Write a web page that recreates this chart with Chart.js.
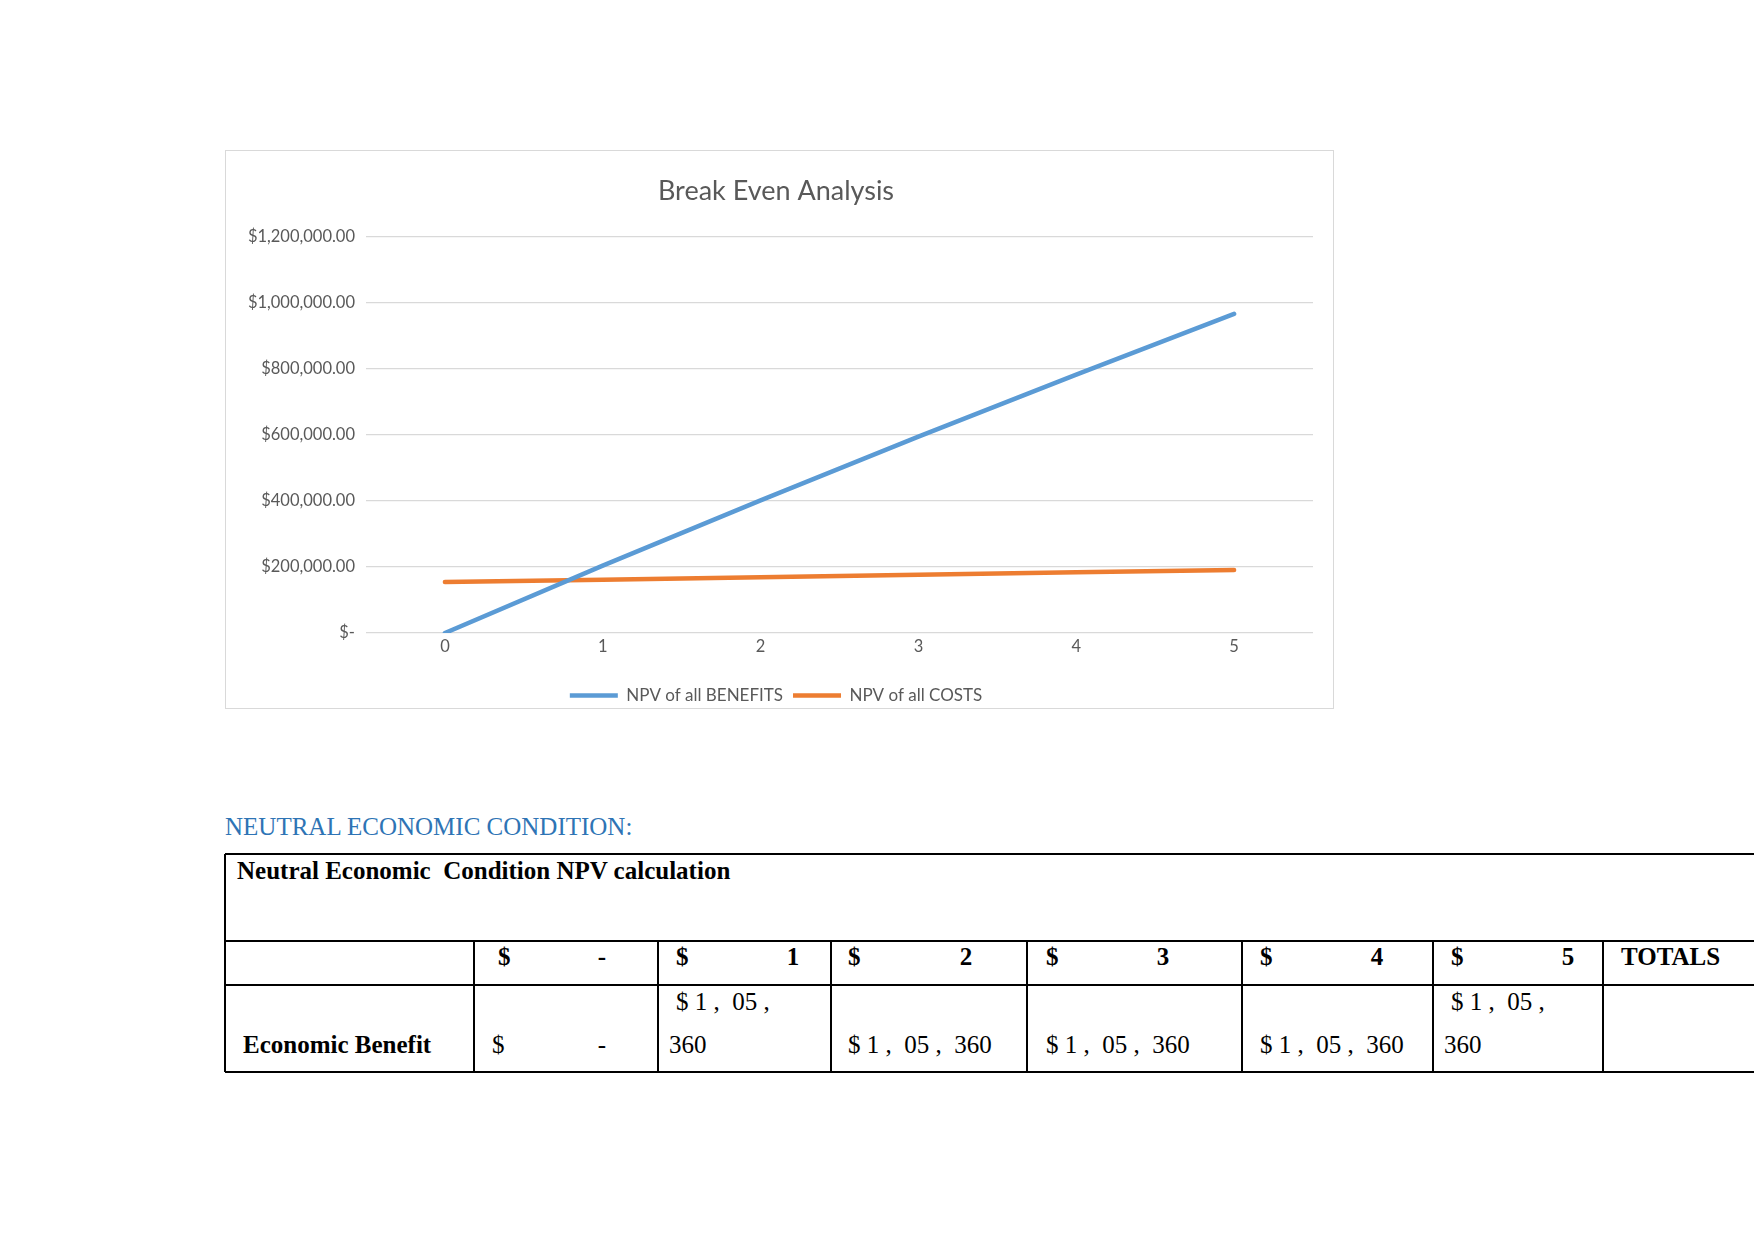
<!DOCTYPE html>
<html>
<head>
<meta charset="utf-8">
<script src="https://cdn.jsdelivr.net/npm/chart.js@4/dist/chart.umd.min.js"></script>
<style>
  html, body { margin: 0; padding: 0; background: #fff; width: 1754px; height: 1241px; overflow: hidden; position: relative; }
  #frame { position: absolute; left: 225px; top: 150px; width: 1109px; height: 559px; border: 1.5px solid #D9D9D9; box-sizing: border-box; }
  #wrap { position: absolute; left: 226px; top: 151px; width: 1107px; height: 563px; }
  .t { position: absolute; font-family: "Liberation Serif", "Times New Roman", serif; font-size: 25px; color: #000; white-space: pre; line-height: 1; transform: translateY(-50%); }
  .b { font-weight: bold; }
  .hl { position: absolute; height: 1.5px; background: #000; }
  .vl { position: absolute; width: 1.5px; background: #000; }
  .c { transform: translate(-50%, -50%); }
</style>
</head>
<body>
<div id="frame"></div>
<div id="wrap"><canvas id="c"></canvas></div>

<div class="t" style="left:225px; top:826px; color:#2E74B5;">NEUTRAL ECONOMIC CONDITION:</div>

<div id="tbl"></div>

<script>
// ---- chart data ----
const periods = ['0', '1', '2', '3', '4', '5'];
const npvBenefits = [0, 204000, 402000, 595000, 783000, 967000];
const npvCosts = [154500, 161500, 169000, 176500, 184000, 191000];
const seriesNames = ['NPV of all BENEFITS', 'NPV of all COSTS'];
const yTickLabels = ['$-', '$200,000.00', '$400,000.00', '$600,000.00', '$800,000.00', '$1,000,000.00', '$1,200,000.00'];
const chartTitle = 'Break Even Analysis';

// ---- table data ----
const tableTitle = 'Neutral Economic  Condition NPV calculation';
const headerCells = ['-', '1', '2', '3', '4', '5'];
const rowLabel = 'Economic Benefit';

const ctx = document.getElementById('c');
new Chart(ctx, {
  type: 'line',
  data: {
    labels: periods,
    datasets: [
      { label: seriesNames[0], data: npvBenefits, borderColor: '#5B9BD5', backgroundColor: '#5B9BD5', borderWidth: 4.5, pointRadius: 0, borderCapStyle: 'round', tension: 0 },
      { label: seriesNames[1], data: npvCosts, borderColor: '#ED7D31', backgroundColor: '#ED7D31', borderWidth: 4.5, pointRadius: 0, borderCapStyle: 'round', tension: 0 }
    ]
  },
  options: {
    responsive: true,
    maintainAspectRatio: false,
    animation: false,
    layout: { padding: { left: 0, right: 7, top: 0, bottom: 0 } },
    plugins: {
      title: {
        display: true, text: chartTitle, color: '#595959',
        font: { family: 'Lato', size: 27, weight: 'normal' },
        padding: { top: 24.3, bottom: 29.3 }
      },
      legend: {
        position: 'bottom',
        labels: {
          usePointStyle: true, pointStyle: 'line', pointStyleWidth: 48,
          color: '#595959', font: { family: 'Lato', size: 17 }, padding: 10
        }
      },
      tooltip: { enabled: false }
    },
    scales: {
      x: {
        offset: true,
        grid: { display: false, drawTicks: false },
        border: { display: false },
        ticks: { color: '#595959', font: { family: 'Lato', size: 16.5 }, padding: 4 },
        afterFit: (s) => { s.height = 44; }
      },
      y: {
        min: 0, max: 1200000,
        grid: { color: '#D9D9D9', lineWidth: 1.2, drawTicks: false },
        border: { display: false },
        ticks: {
          stepSize: 200000, color: '#595959', font: { family: 'Lato', size: 16.5 }, padding: 11,
          callback: (v) => yTickLabels[Math.round(v / 200000)]
        },
        afterFit: (s) => { s.width = 140; }
      },
      ySpacer: {
        type: 'linear', position: 'right', min: 0, max: 1200000,
        grid: { display: false, drawTicks: false },
        border: { display: false },
        ticks: { display: false },
        afterFit: (s) => { s.width = 13; }
      }
    }
  }
});

// ---- table drawing (HTML) ----
const tbl = document.getElementById('tbl');
const colX = [225, 474, 658, 831, 1027, 1242, 1433, 1603, 1754];
const rowY = [854, 941, 985, 1072];
function add(html) { tbl.insertAdjacentHTML('beforeend', html); }
rowY.forEach(y => add(`<div class="hl" style="left:225px; top:${y - 0.75}px; width:1530px;"></div>`));
add(`<div class="vl" style="left:${225 - 0.75}px; top:854px; height:218px;"></div>`);
colX.slice(1, 8).forEach(x => add(`<div class="vl" style="left:${x - 0.75}px; top:941px; height:131px;"></div>`));

add(`<div class="t b" style="left:237px; top:870px;">${tableTitle}</div>`);
const dollarX = [498, 676, 848, 1046, 1260, 1451];
const numX = [602, 793, 966, 1163, 1377, 1568];
headerCells.forEach((h, i) => {
  add(`<div class="t b" style="left:${dollarX[i]}px; top:956px;">$</div>`);
  add(`<div class="t b c" style="left:${numX[i]}px; top:956px;">${h}</div>`);
});
add(`<div class="t b" style="left:1621px; top:956px;">TOTALS</div>`);

add(`<div class="t b" style="left:243px; top:1044px;">${rowLabel}</div>`);
add(`<div class="t" style="left:492px; top:1044px;">$</div>`);
add(`<div class="t c" style="left:602px; top:1044px;">-</div>`);
const benefitText = '$ 1 ,  05 ,  360';
add(`<div class="t" style="left:676px; top:1001px;">$ 1 ,  05 ,</div>`);
add(`<div class="t" style="left:669px; top:1044px;">360</div>`);
add(`<div class="t" style="left:848px; top:1044px;">${benefitText}</div>`);
add(`<div class="t" style="left:1046px; top:1044px;">${benefitText}</div>`);
add(`<div class="t" style="left:1260px; top:1044px;">${benefitText}</div>`);
add(`<div class="t" style="left:1451px; top:1001px;">$ 1 ,  05 ,</div>`);
add(`<div class="t" style="left:1444px; top:1044px;">360</div>`);
</script>
</body>
</html>
